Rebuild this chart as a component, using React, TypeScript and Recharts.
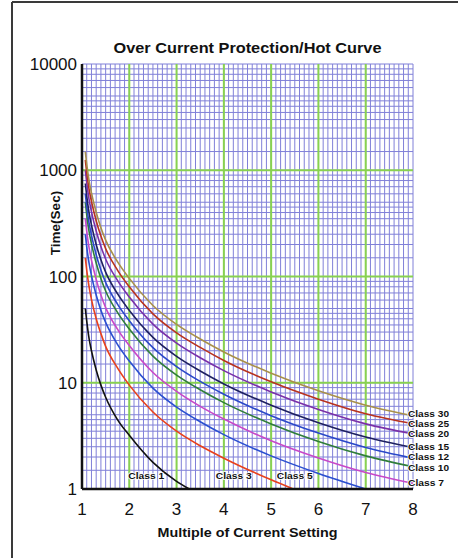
import React from 'react';
import { LineChart, Line, XAxis, YAxis, CartesianGrid, ReferenceLine, ReferenceDot } from 'recharts';

// ---- data ----
const fullX = [1.07, 1.1, 1.15, 1.2, 1.3, 1.4, 1.5, 1.75, 2, 2.5, 3, 3.5, 4, 5, 6, 7, 8];

const class1X = [1.07, 1.1, 1.15, 1.2, 1.3, 1.4, 1.5, 1.75, 2, 2.5, 3, 3.27];
const class1T = [50, 38, 26, 20, 13.2, 9.5, 7.3, 4.5, 3.2, 1.78, 1.18, 1.0];

const class3X = [1.07, 1.1, 1.15, 1.2, 1.3, 1.4, 1.5, 1.75, 2, 2.5, 3, 3.5, 4, 5, 5.47];
const class3T = [150, 114, 80, 61, 40, 29, 22, 13.8, 9.5, 5.3, 3.5, 2.55, 1.95, 1.22, 1.0];

const class5X = [1.07, 1.1, 1.15, 1.2, 1.3, 1.4, 1.5, 1.75, 2, 2.5, 3, 3.5, 4, 5, 6, 7];
const class5T = [250, 190, 133, 102, 67, 48, 37, 23, 16, 8.9, 5.9, 4.3, 3.25, 2.05, 1.4, 1.0];

const class7T = [350, 266, 186, 143, 94, 67, 51, 32, 22.4, 12.5, 8.3, 6.0, 4.55, 2.85, 1.96, 1.43, 1.13];
const class10T = [500, 380, 265, 204, 134, 96, 73, 46, 32, 17.8, 11.8, 8.6, 6.5, 4.1, 2.8, 2.05, 1.62];
const class12T = [600, 456, 318, 245, 160, 115, 88, 55, 38.4, 21.4, 14.2, 10.3, 7.8, 4.9, 3.36, 2.46, 1.95];
const class15T = [750, 570, 398, 306, 200, 144, 110, 69, 48, 26.7, 17.7, 12.9, 9.75, 6.15, 4.2, 3.08, 2.45];
const class20T = [1000, 760, 530, 408, 268, 192, 146, 92, 64, 35.6, 23.6, 17.2, 13, 8.2, 5.6, 4.1, 3.3];
const class25T = [1250, 950, 662, 510, 335, 240, 183, 115, 80, 44.5, 29.5, 21.5, 16.2, 10.2, 7.0, 5.1, 4.1];
const class30T = [1500, 1140, 795, 612, 402, 288, 220, 138, 96, 53.4, 35.4, 25.8, 19.5, 12.3, 8.4, 6.15, 4.9];

const xMajorTicks = [1, 2, 3, 4, 5, 6, 7, 8];
const yMajorTicks = [1, 10, 100, 1000, 10000];
const greenX = [2, 3, 4, 5, 6, 7];
const greenY = [10, 100, 1000];

const bottomLabels = [
  { name: 'Class 1', x: 2.36, t: 1.33 },
  { name: 'Class 3', x: 4.21, t: 1.33 },
  { name: 'Class 5', x: 5.5, t: 1.33 },
];

const zip = (xs: number[], ts: number[]) => xs.map((x, i) => ({ x, t: ts[i] }));

const series = [
  { name: 'Class 1', data: zip(class1X, class1T), color: '#111111', end: false, nudge: 0 },
  { name: 'Class 3', data: zip(class3X, class3T), color: '#e8401c', end: false, nudge: 0 },
  { name: 'Class 5', data: zip(class5X, class5T), color: '#2a4fd0', end: false, nudge: 0 },
  { name: 'Class 7', data: zip(fullX, class7T), color: '#c848c8', end: true, nudge: 0 },
  { name: 'Class 10', data: zip(fullX, class10T), color: '#2f7d3a', end: true, nudge: 1 },
  { name: 'Class 12', data: zip(fullX, class12T), color: '#2a48c8', end: true, nudge: -1 },
  { name: 'Class 15', data: zip(fullX, class15T), color: '#1e2060', end: true, nudge: -0.5 },
  { name: 'Class 20', data: zip(fullX, class20T), color: '#7a30a8', end: true, nudge: 0.5 },
  { name: 'Class 25', data: zip(fullX, class25T), color: '#b8321e', end: true, nudge: 0 },
  { name: 'Class 30', data: zip(fullX, class30T), color: '#a8904a', end: true, nudge: -1.5 },
];

// grid tick positions (styling only)
const xGridTicks: number[] = [];
for (let i = 10; i <= 80; i++) xGridTicks.push(i / 10);
const yGridTicks: number[] = [];
[1, 10, 100, 1000].forEach((d) => {
  [1, 1.5, 2, 2.5, 3, 3.5, 4, 4.5, 5, 6, 7, 8, 9].forEach((k) => yGridTicks.push(Number((d * k).toPrecision(6))));
});
yGridTicks.push(10000);

const FONT = '"Liberation Sans", Arial, Helvetica, sans-serif';

const labelStyle = {
  fontFamily: FONT,
  fontSize: 8.5,
  fontWeight: 700,
  fill: '#111',
  stroke: '#ffffff',
  strokeWidth: 1.5,
  paintOrder: 'stroke' as const,
};

const makeEndLabel = (name: string, n: number, nudge: number) => (props: any) => {
  const { x, y, index } = props;
  if (index !== n - 1) return <g key={`l-${name}-${index}`} />;
  return (
    <text
      key={`l-${name}`}
      x={x - 5}
      y={y + nudge}
      dy={3}
      textAnchor="start"
      textLength={name.length > 7 ? 41 : 36}
      lengthAdjust="spacingAndGlyphs"
      style={labelStyle}
    >
      {name}
    </text>
  );
};

export default function App() {
  return (
    <div style={{ position: 'absolute', left: 0, top: 0, width: 458, height: 558, background: '#fff' }}>
      <LineChart width={458} height={558} margin={{ top: 64, right: 45, left: 12, bottom: 39 }}>
        <CartesianGrid stroke="#8080d8" strokeWidth={1} />
        <XAxis
          type="number"
          dataKey="x"
          domain={[1, 8]}
          ticks={xGridTicks}
          interval={0}
          height={30}
          tickLine={false}
          tickSize={0}
          tickMargin={14}
          axisLine={{ stroke: '#111', strokeWidth: 2.5 }}
          tickFormatter={(v: number) => (xMajorTicks.some((m) => Math.abs(m - v) < 1e-6) ? String(Math.round(v)) : '')}
          tick={{ fontSize: 17, fill: '#111', fontFamily: FONT }}
          allowDuplicatedCategory={false}
        />
        <YAxis
          type="number"
          scale="log"
          domain={[1, 10000]}
          allowDataOverflow
          ticks={yGridTicks}
          interval={0}
          width={70}
          tickLine={false}
          tickSize={0}
          tickMargin={5}
          axisLine={{ stroke: '#111', strokeWidth: 2.5 }}
          tickFormatter={(v: number) => (yMajorTicks.includes(v) ? String(v) : '')}
          tick={{ fontSize: 17, fill: '#111', fontFamily: FONT }}
        />
        {greenX.map((v) => (
          <ReferenceLine key={`gx${v}`} x={v} stroke="#88d250" strokeWidth={2} />
        ))}
        {greenY.map((v) => (
          <ReferenceLine key={`gy${v}`} y={v} stroke="#88d250" strokeWidth={2} />
        ))}
        {series.map((s) => (
          <Line
            key={s.name}
            data={s.data}
            dataKey="t"
            type="monotone"
            stroke={s.color}
            strokeWidth={1.6}
            dot={false}
            activeDot={false}
            isAnimationActive={false}
            label={s.end ? makeEndLabel(s.name, s.data.length, s.nudge) : false}
          />
        ))}
        {bottomLabels.map((b) => (
          <ReferenceDot
            key={b.name}
            x={b.x}
            y={b.t}
            r={0}
            shape={(p: any) => (
              <text
                x={p.cx}
                y={p.cy}
                dy={3}
                textAnchor="middle"
                textLength={36}
                lengthAdjust="spacingAndGlyphs"
                style={labelStyle}
              >
                {b.name}
              </text>
            )}
          />
        ))}
      </LineChart>
      <svg width={458} height={558} style={{ position: 'absolute', left: 0, top: 0, pointerEvents: 'none' }}>
        <line x1={12} y1={2} x2={458} y2={2} stroke="#3a3a3a" strokeWidth={2} />
        <line x1={12} y1={2} x2={12} y2={558} stroke="#3a3a3a" strokeWidth={2} />
        <text
          x={247.5}
          y={47}
          textAnchor="middle"
          dominantBaseline="central"
          textLength={268}
          lengthAdjust="spacingAndGlyphs"
          style={{ fontFamily: FONT, fontSize: 15, fontWeight: 700, fill: '#111' }}
        >
          Over Current Protection/Hot Curve
        </text>
        <text
          x={247.5}
          y={532}
          textAnchor="middle"
          dominantBaseline="central"
          textLength={180}
          lengthAdjust="spacingAndGlyphs"
          style={{ fontFamily: FONT, fontSize: 13.5, fontWeight: 700, fill: '#111' }}
        >
          Multiple of Current Setting
        </text>
        <text
          x={55}
          y={223}
          transform="rotate(-90 55 223)"
          textAnchor="middle"
          dominantBaseline="central"
          style={{ fontFamily: FONT, fontSize: 13.5, fontWeight: 700, fill: '#111' }}
        >
          Time(Sec)
        </text>
      </svg>
    </div>
  );
}
